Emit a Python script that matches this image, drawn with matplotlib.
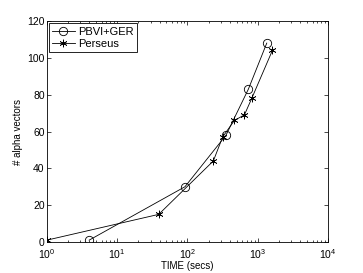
import matplotlib.pyplot as plt
import numpy as np

plt.rcParams['font.family'] = ['Liberation Sans', 'DejaVu Sans']

# --- Data ---
pbvi_time = [4.0, 92, 353, 734, 1340]
pbvi_alpha = [1, 30, 58, 83, 108]
perseus_time = [1.0, 39, 233, 316, 464, 644, 820, 1610]
perseus_alpha = [1, 15, 44, 57, 66, 69, 78, 104]

fig = plt.figure(figsize=(3.63, 2.73), dpi=100)
ax = fig.add_axes([0.129, 0.1136, 0.775, 0.8094])

ax.plot(pbvi_time, pbvi_alpha, color='black', linewidth=0.6, marker='o',
        markersize=6, markerfacecolor='none', markeredgewidth=0.6, label='PBVI+GER')
ax.plot(perseus_time, perseus_alpha, color='black', linewidth=0.6, marker=(6, 2, 0),
        markersize=5.5, markeredgewidth=0.5, label='Perseus')

ax.set_xscale('log')
ax.set_xlim(1, 1e4)
ax.set_ylim(0, 120)
ax.set_yticks([0, 20, 40, 60, 80, 100, 120])
ax.set_xlabel('TIME (secs)', fontsize=7, labelpad=0)
ax.set_ylabel('# alpha vectors', fontsize=7, labelpad=3)
ax.tick_params(which='both', direction='in', top=True, right=True, labelsize=7.5,
               width=0.5)
ax.tick_params(axis='x', pad=4)
ax.tick_params(axis='y', pad=1.5)
ax.tick_params(which='major', length=3)
ax.tick_params(which='minor', length=1.5)
for s in ax.spines.values():
    s.set_linewidth(0.6)

leg = ax.legend(loc='upper left', fontsize=8, fancybox=False, edgecolor='black',
                framealpha=1, borderpad=0.3, handlelength=2, handletextpad=0.3,
                labelspacing=0.2, borderaxespad=0.2)
leg.get_frame().set_linewidth(0.6)

fig.savefig('out.png', dpi=100)
